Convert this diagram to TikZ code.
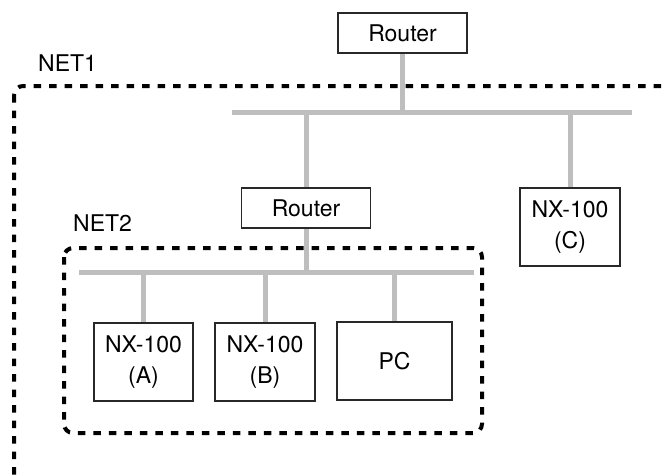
\documentclass[tikz,border=0pt]{standalone}
\usepackage{fontspec}
\setmainfont{TeX Gyre Heros}
\usetikzlibrary{positioning, calc}
\definecolor{wire}{RGB}{190,190,190}
\definecolor{frame}{RGB}{40,40,40}

\begin{document}
\begin{tikzpicture}[x=1pt,y=-1pt,
  dev/.style={rectangle,draw=frame,line width=1.2pt,fill=white,
              font=\fontsize{23}{30.5}\selectfont,inner sep=0pt,align=center},
  lbl/.style={font=\fontsize{23}{27}\selectfont,inner sep=0pt,anchor=base west},
  bus/.style={wire,line width=5pt},
  net/.style={line width=4pt,dash pattern=on 7.5pt off 8pt,rounded corners=9pt}
]
\useasboundingbox (0,0) rectangle (662,475);

% network borders
\draw[net] (14,86) rectangle (720,520);
\draw[net] (64,248) rectangle (482,433);
\node[lbl] (net1) at (38,71)  {NET1};
\node[lbl] (net2) at (73,231) {NET2};

% buses
\coordinate (bus1w) at (232,112);
\coordinate (bus1e) at (632,112);
\coordinate (bus2w) at (79,272);
\coordinate (bus2e) at (474,272);

% devices
\node[dev, minimum width=129pt, minimum height=40pt] (rtop) at (402.5,33)  {Router};
\node[dev, minimum width=129pt, minimum height=40pt] (rmid) at (306,208)   {Router};
\node[dev, minimum width=100pt, minimum height=78pt] (nxc)  at (570,227)   {NX-100\\(C)};
\node[dev, minimum width=99pt,  minimum height=78pt] (nxa)  at (143.5,362) {NX-100\\(A)};
\node[dev, minimum width=100pt, minimum height=78pt] (nxb)  at (265,362)   {NX-100\\(B)};
\node[dev, minimum width=115pt, minimum height=78pt] (pc)   at (394.5,361) {PC};

\draw[bus] (bus1w) -- (bus1e);
\draw[bus] (bus2w) -- (bus2e);
\draw[bus] (rtop.south) -- (rtop.south |- bus1w);
\draw[bus] (rmid.north |- bus1w) -- (rmid.north);
\draw[bus] (nxc.north |- bus1w) -- (nxc.north);
\draw[bus] (rmid.south) -- (rmid.south |- bus2w);
\foreach \d in {nxa,nxb,pc}
  \draw[bus] (\d.north |- bus2w) -- (\d.north);
\end{tikzpicture}
\end{document}
